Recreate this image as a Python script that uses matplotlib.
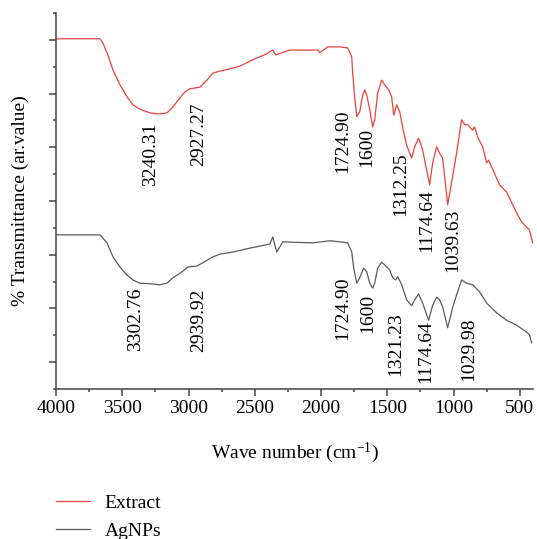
import matplotlib
matplotlib.use("Agg")
import matplotlib.pyplot as plt
from matplotlib.ticker import NullFormatter

plt.rcParams['font.family'] = ['Liberation Serif', 'DejaVu Serif']
plt.rcParams['mathtext.fontset'] = 'custom'
plt.rcParams['mathtext.rm'] = 'Liberation Serif'
plt.rcParams['mathtext.it'] = 'Liberation Serif:italic'

# Extract spectrum (wave number, transmittance in arbitrary units)
extract_wn = [4000, 3668, 3646, 3615, 3570, 3517, 3464, 3419, 3367, 3291, 3216,
              3163, 3118, 3065, 3027, 2990, 2937, 2914, 2861, 2816, 2763, 2688,
              2613, 2515, 2409, 2386, 2364, 2341, 2236, 2024, 2009, 1949, 1859,
              1798, 1768, 1761, 1746, 1730, 1708, 1685, 1670, 1655, 1632, 1610,
              1595, 1572, 1542, 1519, 1489, 1467, 1451, 1429, 1406, 1384, 1354,
              1316, 1293, 1263, 1233, 1180, 1157, 1127, 1105, 1082, 1044, 1007,
              977, 939, 916, 894, 856, 841, 818, 780, 750, 735, 652, 599, 524,
              486, 426, 403]
extract_t = [6.52, 6.52, 6.44, 6.26, 5.94, 5.66, 5.44, 5.29, 5.21, 5.14, 5.12,
             5.14, 5.25, 5.42, 5.53, 5.59, 5.61, 5.62, 5.75, 5.88, 5.92, 5.96,
             6.01, 6.13, 6.24, 6.28, 6.31, 6.22, 6.31, 6.31, 6.26, 6.37, 6.37,
             6.35, 6.18, 5.88, 5.44, 5.07, 5.16, 5.47, 5.57, 5.47, 5.20, 4.88,
             5.01, 5.51, 5.75, 5.66, 5.57, 5.44, 5.10, 5.29, 5.16, 4.88, 4.54,
             4.30, 4.51, 4.67, 4.45, 3.80, 4.21, 4.51, 4.39, 4.30, 3.43, 3.95,
             4.39, 5.01, 4.92, 4.92, 4.82, 4.88, 4.69, 4.51, 4.21, 4.26, 3.80,
             3.67, 3.28, 3.11, 2.96, 2.72]

# AgNPs spectrum
agnp_wn = [4000, 3668, 3615, 3570, 3517, 3464, 3419, 3367, 3291, 3216, 3163,
           3118, 3050, 3005, 2937, 2892, 2816, 2763, 2665, 2560, 2462, 2386,
           2364, 2334, 2288, 2062, 1934, 1859, 1798, 1768, 1753, 1730, 1708,
           1678, 1655, 1632, 1610, 1595, 1572, 1542, 1519, 1482, 1459, 1436,
           1421, 1391, 1354, 1316, 1293, 1263, 1233, 1188, 1157, 1127, 1105,
           1082, 1044, 1007, 977, 939, 901, 856, 803, 750, 675, 599, 524, 449,
           426, 411]
agnp_t = [2.87, 2.87, 2.72, 2.46, 2.27, 2.12, 2.03, 1.97, 1.96, 1.94, 1.97,
          2.07, 2.18, 2.27, 2.29, 2.35, 2.46, 2.51, 2.55, 2.61, 2.66, 2.70,
          2.83, 2.55, 2.74, 2.72, 2.76, 2.74, 2.72, 2.55, 2.25, 1.97, 2.07,
          2.25, 2.18, 1.97, 1.88, 1.97, 2.25, 2.36, 2.31, 2.22, 2.07, 2.03,
          2.09, 1.94, 1.66, 1.55, 1.66, 1.77, 1.60, 1.28, 1.56, 1.71, 1.66,
          1.53, 1.14, 1.51, 1.75, 2.03, 1.97, 1.94, 1.81, 1.60, 1.42, 1.28,
          1.19, 1.06, 1.01, 0.86]

# peak labels: text, x position, top of text
extract_labels = ["3240.31", "2927.27", "1724.90", "1600", "1312.25", "1174.64", "1039.63"]
extract_lab_x = [3284, 2922, 1836, 1655, 1398, 1200, 1007]
extract_lab_y = [4.97, 5.33, 5.20, 4.86, 4.41, 3.72, 3.35]

agnp_labels = ["3302.76", "2939.92", "1724.90", "1600", "1321.23", "1174.64", "1029.98"]
agnp_lab_x = [3397, 2922, 1836, 1648, 1436, 1210, 886]
agnp_lab_y = [1.88, 1.88, 2.10, 1.77, 1.42, 1.28, 1.34]

red = '#e8423a'
grey = '#5a5a5a'

fig = plt.figure(figsize=(5.37, 5.39), dpi=100)
ax = fig.add_axes([56 / 537, 1 - 389 / 539, 477 / 537, 376 / 539])

ax.plot(extract_wn, extract_t, color=red, lw=0.9, label='Extract')
ax.plot(agnp_wn, agnp_t, color=grey, lw=0.9, label='AgNPs')

for s, x, y in zip(extract_labels, extract_lab_x, extract_lab_y):
    ax.text(x, y, s, rotation=90, ha='center', va='top', fontsize=14)
for s, x, y in zip(agnp_labels, agnp_lab_x, agnp_lab_y):
    ax.text(x, y, s, rotation=90, ha='center', va='top', fontsize=14)

ax.set_xlim(4000, 400)
ax.set_ylim(0, 7)
ax.set_xticks([4000, 3500, 3000, 2500, 2000, 1500, 1000, 500])
ax.set_xticks([3750, 3250, 2750, 2250, 1750, 1250, 750], minor=True)
ax.set_yticks([0.5, 1.5, 2.5, 3.5, 4.5, 5.5, 6.5])
ax.set_yticks([0, 1, 2, 3, 4, 5, 6, 7], minor=True)
ax.yaxis.set_major_formatter(NullFormatter())

for side in ['top', 'right']:
    ax.spines[side].set_visible(False)
for side in ['left', 'bottom']:
    ax.spines[side].set_color('#444444')
    ax.spines[side].set_linewidth(1.1)

ax.tick_params(which='major', length=5, width=1.1, color='#444444', labelsize=14, pad=3)
ax.tick_params(which='minor', length=2.5, width=1.1, color='#444444')

ax.set_xlabel(r'Wave number (cm$^{-1}$)', fontsize=14)
ax.xaxis.set_label_coords(0.5, (389 - 453) / 376)
ax.xaxis.label.set_va('center')
ax.set_ylabel('% Transmittance (ar.value)', fontsize=14)
ax.yaxis.set_label_coords(-36 / 477, 0.5)
ax.yaxis.label.set_va('center')

fig.legend(loc='upper left', bbox_to_anchor=(56 / 537, 1 - 494 / 539),
           frameon=False, fontsize=14, handlelength=1.75, handletextpad=0.75,
           labelspacing=0.55, borderpad=0, borderaxespad=0)

fig.savefig('out.png', dpi=100)
